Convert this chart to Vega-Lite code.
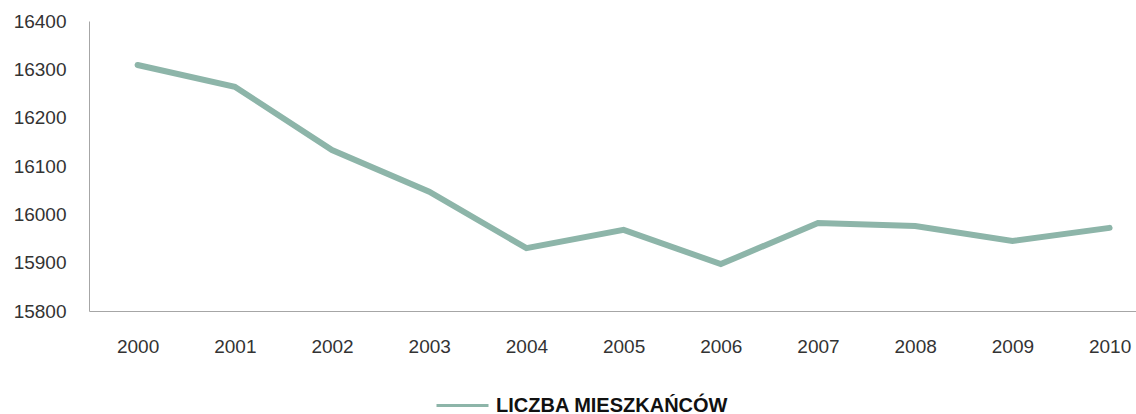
{
  "$schema": "https://vega.github.io/schema/vega-lite/v6.json",
  "width": 1047,
  "height": 290,
  "autosize": {"type": "none"},
  "padding": {"left": 89, "top": 21, "right": 0, "bottom": 103},
  "background": "white",
  "config": {"view": {"stroke": null}, "font": "Liberation Sans"},
  "data": {
    "values": [
      {"year": "2000", "value": 16309, "series": "LICZBA MIESZKAŃCÓW"},
      {"year": "2001", "value": 16264, "series": "LICZBA MIESZKAŃCÓW"},
      {"year": "2002", "value": 16133, "series": "LICZBA MIESZKAŃCÓW"},
      {"year": "2003", "value": 16047, "series": "LICZBA MIESZKAŃCÓW"},
      {"year": "2004", "value": 15930, "series": "LICZBA MIESZKAŃCÓW"},
      {"year": "2005", "value": 15968, "series": "LICZBA MIESZKAŃCÓW"},
      {"year": "2006", "value": 15897, "series": "LICZBA MIESZKAŃCÓW"},
      {"year": "2007", "value": 15982, "series": "LICZBA MIESZKAŃCÓW"},
      {"year": "2008", "value": 15976, "series": "LICZBA MIESZKAŃCÓW"},
      {"year": "2009", "value": 15945, "series": "LICZBA MIESZKAŃCÓW"},
      {"year": "2010", "value": 15972, "series": "LICZBA MIESZKAŃCÓW"}
    ]
  },
  "mark": {"type": "line", "strokeWidth": 6, "strokeCap": "round", "strokeJoin": "miter"},
  "encoding": {
    "x": {
      "field": "year",
      "type": "ordinal",
      "scale": {"type": "point", "padding": 0.386, "align": 0.648},
      "axis": {
        "title": null,
        "labelAngle": 0,
        "ticks": false,
        "grid": false,
        "domainColor": "#a6a6a6",
        "domainWidth": 1,
        "labelPadding": 26,
        "labelFontSize": 19,
        "labelColor": "#333333"
      }
    },
    "y": {
      "field": "value",
      "type": "quantitative",
      "scale": {"domain": [15800, 16400], "nice": false, "zero": false},
      "axis": {
        "title": null,
        "values": [15800, 15900, 16000, 16100, 16200, 16300, 16400],
        "format": "d",
        "ticks": false,
        "grid": false,
        "domainColor": "#a6a6a6",
        "domainWidth": 1,
        "labelPadding": 23,
        "labelFontSize": 19,
        "labelColor": "#333333"
      }
    },
    "color": {
      "field": "series",
      "type": "nominal",
      "scale": {"range": ["#8db5a9"]},
      "legend": {
        "title": null,
        "orient": "none",
        "legendX": 346,
        "legendY": 357,
        "symbolType": "stroke",
        "symbolSize": 2704,
        "symbolStrokeWidth": 3,
        "labelFontSize": 20,
        "labelFontWeight": "bold",
        "labelColor": "#111111",
        "labelOffset": 6,
        "labelLimit": 500
      }
    }
  }
}
